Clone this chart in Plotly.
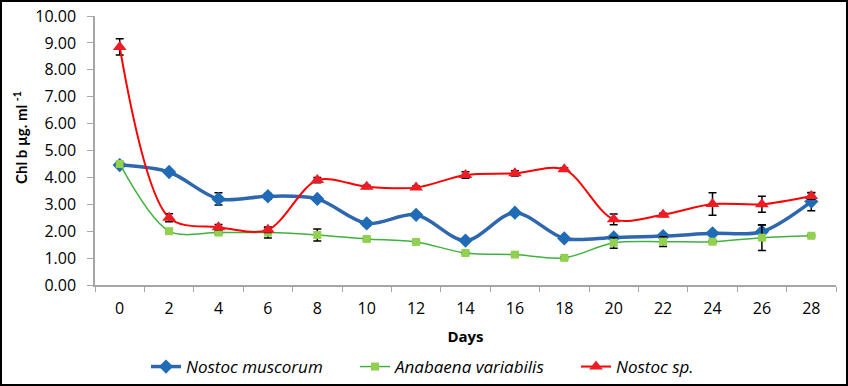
import plotly.graph_objects as go

days = ["0", "2", "4", "6", "8", "10", "12", "14", "16", "18", "20", "22", "24", "26", "28"]

nostoc_muscorum = [4.46, 4.20, 3.20, 3.30, 3.20, 2.29, 2.61, 1.65, 2.69, 1.73, 1.77, 1.82, 1.92, 1.98, 3.10]
nostoc_muscorum_err = [0.08, 0.08, 0.23, 0.1, 0.08, 0.1, 0.06, 0.06, 0.06, 0.06, 0.05, 0.05, 0.05, 0.25, 0.34]

anabaena = [4.50, 2.00, 1.95, 1.95, 1.86, 1.71, 1.60, 1.19, 1.13, 1.01, 1.57, 1.61, 1.61, 1.76, 1.83]
anabaena_err = [0.05, 0.05, 0.05, 0.2, 0.22, 0.04, 0.04, 0.04, 0.04, 0.04, 0.2, 0.18, 0.04, 0.48, 0.04]

nostoc_sp = [8.85, 2.50, 2.15, 2.05, 3.90, 3.65, 3.62, 4.09, 4.15, 4.30, 2.44, 2.61, 3.01, 3.00, 3.31]
nostoc_sp_err = [0.3, 0.15, 0.1, 0.1, 0.1, 0.06, 0.06, 0.12, 0.1, 0.06, 0.2, 0.06, 0.42, 0.3, 0.12]

font = "'Open Sans', sans-serif"

W, H = 848, 386
L, R, T, B = 95, 12, 16, 101
PW, PH = W - L - R, H - T - B


def px(fx):
    return (fx - L) / PW


def py(fy):
    return (H - B - fy) / PH


fig = go.Figure()

fig.add_trace(go.Scatter(
    x=days, y=nostoc_muscorum, name="<i>Nostoc muscorum</i>", mode="lines+markers", legend="legend",
    line=dict(color="#2E67AE", width=3.5, shape="spline", smoothing=0.9),
    marker=dict(symbol="diamond", size=11, color="#1F6BB5"),
    error_y=dict(type="data", array=nostoc_muscorum_err, color="black", thickness=1.5, width=4),
))
fig.add_trace(go.Scatter(
    x=days, y=anabaena, name="<i>Anabaena variabilis</i>", mode="lines+markers", legend="legend2",
    line=dict(color="#3DB33D", width=1.5, shape="spline", smoothing=0.9),
    marker=dict(symbol="square", size=8, color="#92D050"),
    error_y=dict(type="data", array=anabaena_err, color="black", thickness=1.5, width=4),
))
fig.add_trace(go.Scatter(
    x=days, y=nostoc_sp, name="<i>Nostoc sp.</i>", mode="lines+markers", legend="legend3",
    line=dict(color="#FF0000", width=2, shape="spline", smoothing=0.9),
    marker=dict(symbol="triangle-up", size=12, color="#EE1C25"),
    error_y=dict(type="data", array=nostoc_sp_err, color="black", thickness=1.5, width=4),
))

leg_y = py(367)
leg_common = dict(orientation="h", xanchor="left", y=leg_y, yanchor="middle",
                  font=dict(size=17), bgcolor="rgba(0,0,0,0)")

fig.update_layout(
    width=W, height=H,
    margin=dict(l=L, r=R, t=T, b=B, autoexpand=False),
    paper_bgcolor="white", plot_bgcolor="white",
    font=dict(family=font, size=15, color="black"),
    showlegend=True,
    legend=dict(x=px(146), **leg_common),
    legend2=dict(x=px(355), **leg_common),
    legend3=dict(x=px(576), **leg_common),
    xaxis=dict(
        type="category", range=[-0.5, 14.5], tickson="boundaries", ticks="outside", ticklen=5,
        tickcolor="#A6A6A6", showline=True, linecolor="#A6A6A6", linewidth=1.5, showgrid=False,
        automargin=False, ticklabelstandoff=8,
        title=dict(text="<b>Days</b>", font=dict(size=15), standoff=14),
        tickfont=dict(size=16),
    ),
    yaxis=dict(
        range=[0, 10], dtick=1, tickformat=".2f", ticks="outside", ticklen=6, tickcolor="#A6A6A6",
        showline=True, linecolor="#A6A6A6", linewidth=1.5, showgrid=False, zeroline=False,
        automargin=False, ticklabelstandoff=8, ticklabeloverflow="allow",
        tickfont=dict(size=16),
    ),
    annotations=[dict(
        text="<b>Chl b µg. ml <sup>-1</sup></b>", textangle=-90,
        xref="paper", yref="paper", x=px(20), y=py(138), xanchor="center", yanchor="middle",
        showarrow=False, font=dict(family="Lato, sans-serif", size=15),
    )],
    shapes=[dict(type="rect", xref="paper", yref="paper",
                 x0=px(1), x1=px(W - 1), y0=py(H - 1), y1=py(1),
                 line=dict(color="black", width=2), fillcolor="rgba(0,0,0,0)", layer="below")],
)

fig.write_html("out.html", config={"displayModeBar": False},
               post_script="document.body.style.margin='0';")
